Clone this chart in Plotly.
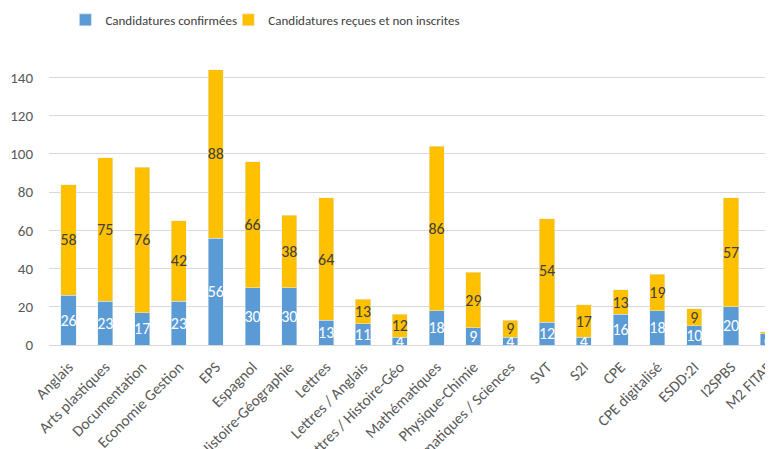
import plotly.graph_objects as go

categories = [
    "Anglais", "Arts plastiques", "Documentation", "Economie Gestion", "EPS",
    "Espagnol", "Histoire-Géographie", "Lettres", "Lettres / Anglais",
    "Lettres / Histoire-Géo", "Mathématiques", "Physique-Chimie",
    "Mathématiques / Sciences", "SVT", "S2I", "CPE", "CPE digitalisé",
    "ESDD:2I", "I2SPBS", "M2 FITAP",
]
confirmees = [26, 23, 17, 23, 56, 30, 30, 13, 11, 4, 18, 9, 4, 12, 4, 16, 18, 10, 20, 6]
non_inscrites = [58, 75, 76, 42, 88, 66, 38, 64, 13, 12, 86, 29, 9, 54, 17, 13, 19, 9, 57, 1]

FONT = "Carlito, 'Liberation Sans Narrow', 'Liberation Sans', sans-serif"

fig = go.Figure()
fig.add_bar(
    x=categories, y=confirmees, name="Candidatures confirmées",
    marker_color="#5B9BD5",
    text=confirmees, textposition="inside", insidetextanchor="middle",
    textangle=0, constraintext="none",
    textfont=dict(color="white", size=16, family=FONT),
    legend="legend", showlegend=True,
)
fig.add_bar(
    x=categories, y=non_inscrites, name="Candidatures reçues et non inscrites",
    marker_color="#FFC000",
    text=non_inscrites, textposition="inside", insidetextanchor="middle",
    textangle=0, constraintext="none",
    textfont=dict(color="#404040", size=16, family=FONT),
    legend="legend2", showlegend=True,
)

legend_style = dict(
    orientation="h",
    xref="container", xanchor="left",
    yref="container", y=0.973, yanchor="middle",
    bgcolor="rgba(0,0,0,0)",
    font=dict(size=13, color="#404040"),
)

# the page body has an 8px margin, so the figure is 8px smaller than the window
fig.update_layout(
    width=765,
    height=441,
    barmode="stack",
    bargap=0.59,
    showlegend=True,
    margin=dict(l=41, r=0, t=60, b=104),
    plot_bgcolor="white",
    paper_bgcolor="white",
    font=dict(family=FONT, size=15, color="#595959"),
    uniformtext=dict(mode="show", minsize=16),
    legend=dict(legend_style, x=0.075),
    legend2=dict(legend_style, x=0.288),
)
fig.update_xaxes(
    range=[-0.53, 19.14],
    tickangle=-45,
    showline=True, linecolor="#d9d9d9", linewidth=1,
    ticks="", automargin=False,
    ticklabelstandoff=6,
    tickfont=dict(size=15.5, color="#595959"),
)
fig.update_yaxes(
    range=[0, 145],
    dtick=20,
    showgrid=True, gridcolor="#d9d9d9", gridwidth=1,
    zeroline=False, ticks="", automargin=False,
    ticklabelstandoff=15,
    tickfont=dict(size=15, color="#595959"),
)

fig.write_html("out.html")
